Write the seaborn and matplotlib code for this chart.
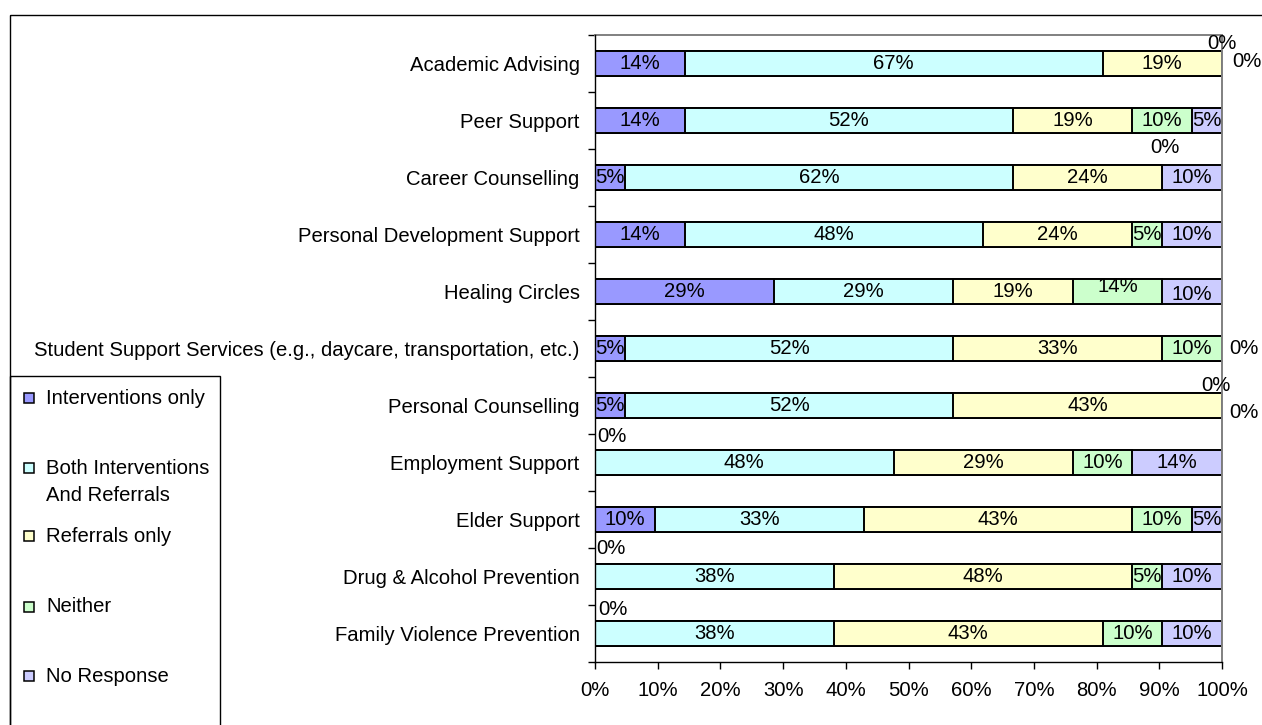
import numpy as np
import pandas as pd
import matplotlib
matplotlib.use("Agg")
import matplotlib.pyplot as plt
from matplotlib.patches import Rectangle
import seaborn as sns

# ---------------- data ----------------
categories = [
    "Academic Advising",
    "Peer Support",
    "Career Counselling",
    "Personal Development Support",
    "Healing Circles",
    "Student Support Services (e.g., daycare, transportation, etc.)",
    "Personal Counselling",
    "Employment Support",
    "Elder Support",
    "Drug & Alcohol Prevention",
    "Family Violence Prevention",
]
series_labels = [
    "Interventions only",
    "Both Interventions\nAnd Referrals",
    "Referrals only",
    "Neither",
    "No Response",
]
respondents = 21
interventions_only = [3, 3, 1, 3, 6, 1, 1, 0, 2, 0, 0]
both_interventions_referrals = [14, 11, 13, 10, 6, 11, 11, 10, 7, 8, 8]
referrals_only = [4, 4, 5, 5, 4, 7, 9, 6, 9, 10, 9]
neither = [0, 2, 0, 1, 3, 2, 0, 2, 2, 1, 2]
no_response = [0, 1, 2, 2, 2, 0, 0, 3, 1, 2, 2]
x_ticks = [0, 10, 20, 30, 40, 50, 60, 70, 80, 90, 100]

colors = ["#9999FF", "#CCFFFF", "#FFFFCC", "#CCFFCC", "#CCCCFF"]

# label offsets in pixels (dx, dy up) for labels Excel moved
label_offsets = {
    (0, 3): (0, 20), (0, 4): (25, 2),
    (2, 3): (3, 30),
    (4, 3): (0, 5), (4, 4): (0, -3),
    (5, 4): (22, 0),
    (6, 3): (-6, 20), (6, 4): (22, -7),
    (7, 0): (17, 26),
    (9, 0): (16, 28),
    (10, 0): (18, 24),
}

# ---------------- figure ----------------
sns.set_theme(style="white")
plt.rcParams["font.family"] = ["Liberation Sans", "DejaVu Sans"]
FS = 14.6

W, H = 1262, 725
fig = plt.figure(figsize=(W / 100, H / 100), dpi=100)
fig.patch.set_facecolor("white")
ax = fig.add_axes([595 / W, 1 - 662 / H, 627 / W, 627 / H])

counts = np.array([interventions_only, both_interventions_referrals,
                   referrals_only, neither, no_response], dtype=float)
pct = counts * 100.0 / respondents
cum = np.cumsum(pct, axis=0)

for k in reversed(range(len(series_labels))):
    df = pd.DataFrame({"category": categories, "value": cum[k]})
    sns.barplot(data=df, x="value", y="category", orient="y",
                color=colors[k], saturation=1, edgecolor="black",
                linewidth=1.4, width=0.435, errorbar=None, ax=ax)

ax.set_xlim(0, 100)
ax.set_ylim(len(categories) - 0.5, -0.5)
ax.set_xlabel("")
ax.set_ylabel("")

ax.set_xticks(x_ticks)
ax.set_xticklabels([f"{v}%" for v in x_ticks], fontsize=FS)
ax.tick_params(axis="x", bottom=True, direction="out", length=5, width=1,
               color="black", pad=9, labelcolor="black")
ax.set_yticks(range(len(categories)))
ax.set_yticklabels(categories, fontsize=FS)
ax.tick_params(axis="y", which="major", left=True, length=0, pad=11,
               labelcolor="black")
ax.set_yticks(np.arange(-0.5, len(categories), 1.0), minor=True)
ax.tick_params(axis="y", which="minor", left=True, direction="out",
               length=5, width=1, color="black")

for side in ["left", "bottom"]:
    ax.spines[side].set_color("black")
    ax.spines[side].set_linewidth(1.0)
for side in ["top", "right"]:
    ax.spines[side].set_color("#808080")
    ax.spines[side].set_linewidth(1.4)
ax.spines["left"].set_zorder(5)

# value labels
for i in range(len(categories)):
    start = 0.0
    for k in range(len(series_labels)):
        p = pct[k, i]
        center = start + p / 2
        dx, dy = label_offsets.get((i, k), (0, 0))
        ax.annotate(f"{round(p):.0f}%", xy=(center, i), xytext=(dx, dy),
                    textcoords="offset pixels", ha="center", va="center",
                    fontsize=FS, color="black", annotation_clip=False,
                    zorder=6)
        start += p

# overlay for frame & legend (pixel coordinates)
ov = fig.add_axes([0, 0, 1, 1])
ov.set_xlim(0, W)
ov.set_ylim(H, 0)
ov.axis("off")
ov.patch.set_alpha(0)

ov.add_patch(Rectangle((10, 15), W + 20, H + 20, fill=False,
                       edgecolor="black", linewidth=1.0))
ov.add_patch(Rectangle((10, 376), 210, H, fill=False,
                       edgecolor="black", linewidth=1.0))

legend_y = [398, 468, 536, 607, 676]
for k, lab in enumerate(series_labels):
    yc = legend_y[k]
    ov.add_patch(Rectangle((24, yc - 5), 10, 10, facecolor=colors[k],
                           edgecolor="black", linewidth=1.1))
    for j, line in enumerate(lab.split("\n")):
        ov.text(46, yc + j * 27, line, ha="left", va="center",
                fontsize=FS, color="black")

fig.savefig("out.png", dpi=100)
